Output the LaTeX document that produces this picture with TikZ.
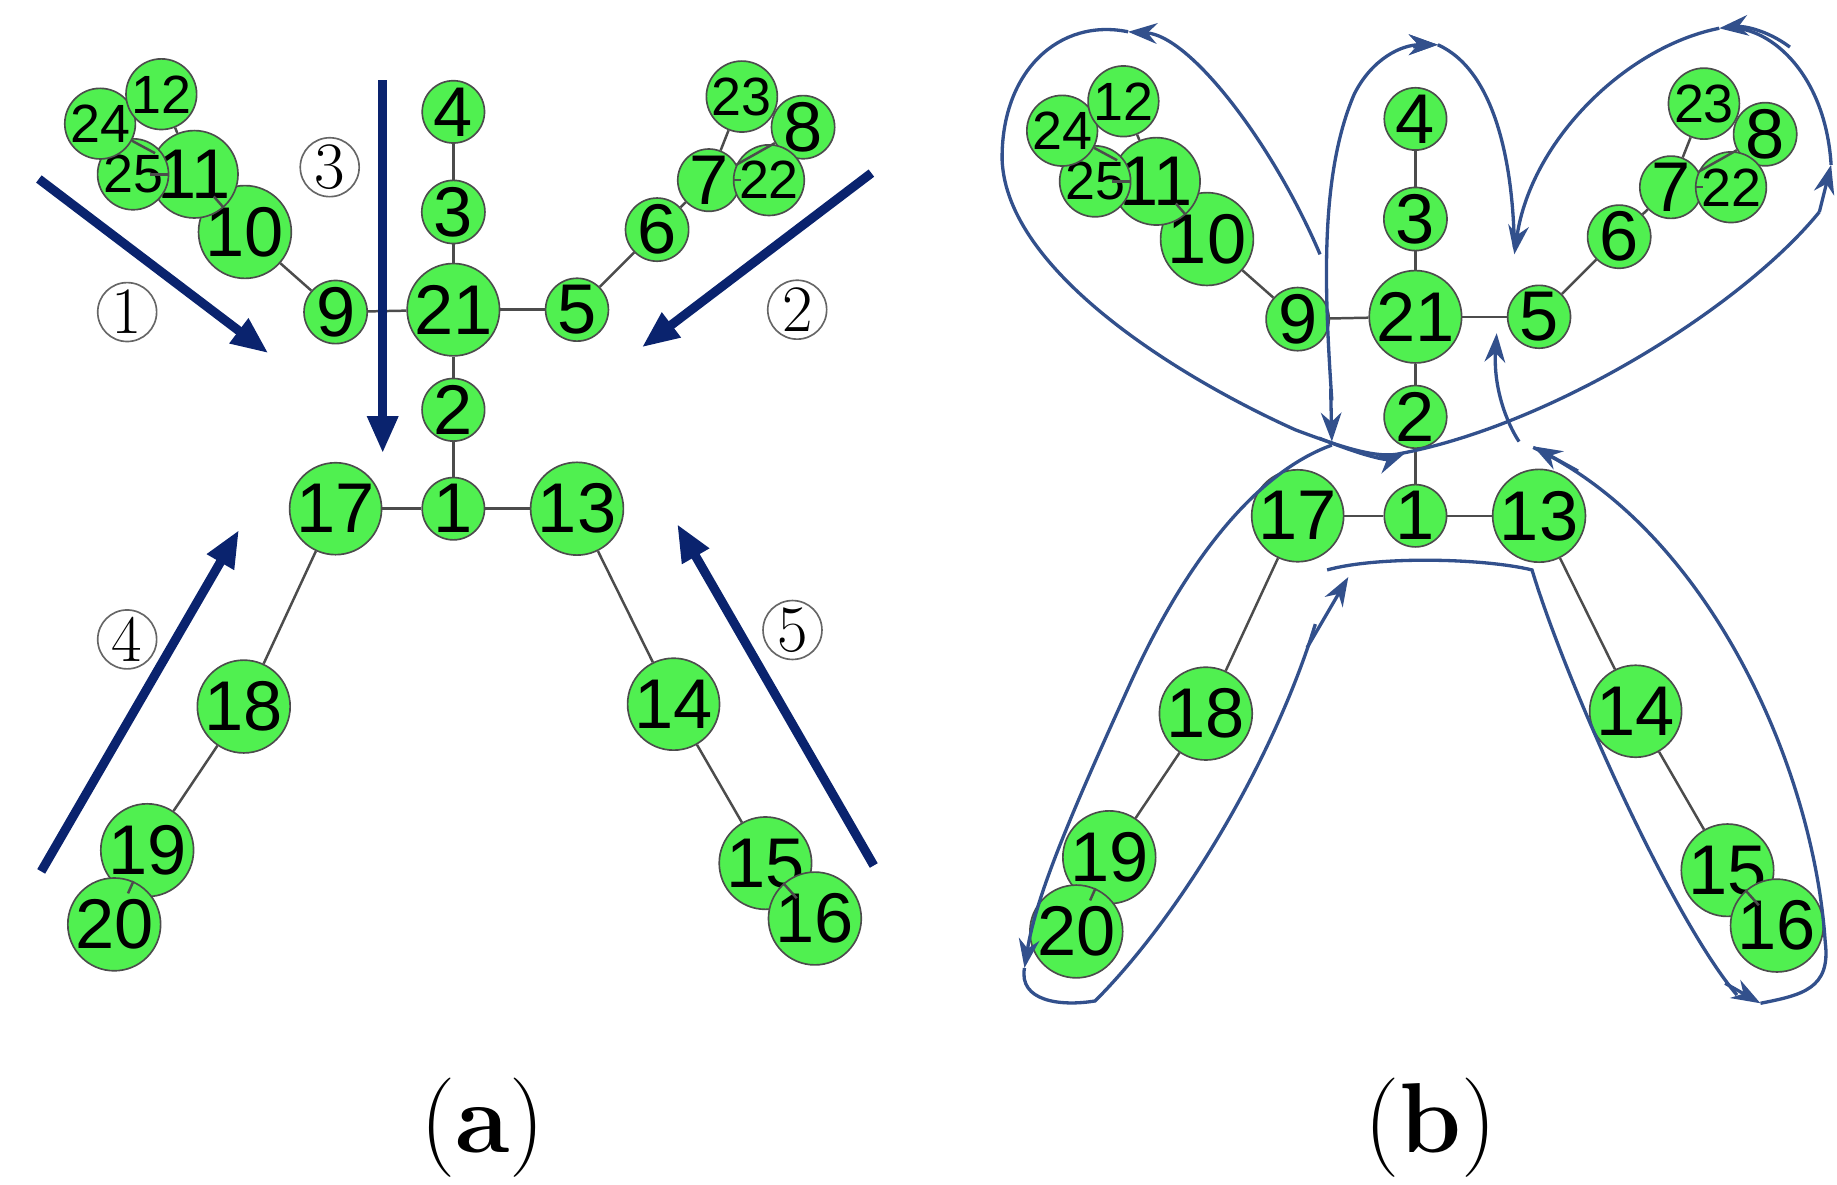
\documentclass[tikz,border=0pt]{standalone}
\usepackage{fontspec}
\newfontfamily\sansf{Liberation Sans}
\usetikzlibrary{arrows.meta}
\definecolor{ng}{RGB}{80,240,80}
\definecolor{navy}{RGB}{10,35,110}
\definecolor{lp}{RGB}{50,80,140}
\begin{document}
\begin{tikzpicture}[x=0.01cm,y=-0.01cm,
 J/.style={circle,draw=black!70,fill=ng,minimum size=0.48cm,inner sep=0,font=\sansf\fontsize{17}{17}\selectfont},
 S/.style={J,minimum size=0.40cm,font=\sansf\fontsize{13}{13}\selectfont},
 E/.style={draw=black!70,line width=0.6pt},
 C/.style={circle,draw=black!60,minimum size=0.5cm,inner sep=0,font=\fontsize{16}{16}\selectfont},
 BA/.style={navy,line width=2.2pt,-{Triangle[length=9pt,width=7pt]}},
 L/.style={lp,line width=0.8pt,-{Stealth[length=7pt,width=5pt]}},
 captxt/.style={font=\fontsize{24}{24}\selectfont}]
\useasboundingbox (0,0) rectangle (1560,1006);
\foreach \p/\dx/\dy in {a/0/0,b/817/6}{
\begin{scope}[shift={(\dx,\dy)}]
\foreach \n/\x/\y in {4/385/95,3/385/180,21/385/263,2/385/348,1/385/432,9/285/265,5/490/263,17/285/432,13/490/432,10/208/197,11/165/148,6/558/195,7/602/153,8/682/108,18/207/600,19/125/722,20/97/785,14/572/598,15/650/733,16/692/780}
  \node[J] (\p\n) at (\x,\y) {\n};
\foreach \n/\x/\y in {25/113/148,24/85/105,12/137/80,22/653/153,23/630/82}
  \node[S] (\p\n) at (\x,\y) {\n};
\foreach \u/\v in {4/3,3/21,21/2,2/1,21/9,21/5,9/10,10/11,11/25,11/24,11/12,5/6,6/7,7/22,7/8,7/23,1/17,1/13,17/18,18/19,19/20,13/14,14/15,15/16}
  \draw[E] (\p\u) -- (\p\v);
\end{scope}}
\foreach \n/\x/\y in {1/108/265,2/677/263,3/280/142,4/108/543,5/673/535}
  \node[C] (c\n) at (\x,\y) {\n};
\coordinate (a1s) at (33,152); \coordinate (a1e) at (228,300);
\coordinate (a2s) at (740,147); \coordinate (a2e) at (545,295);
\coordinate (a3s) at (325,68); \coordinate (a3e) at (325,385);
\coordinate (a4s) at (35,740); \coordinate (a4e) at (203,450);
\coordinate (a5s) at (742,735); \coordinate (a5e) at (575,445);
\foreach \i in {1,...,5} \draw[BA] (a\i s) -- (a\i e);
\node[captxt] (capa) at (410,958) {(\textbf{a})};
\node[captxt] (capb) at (1215,958) {(\textbf{b})};
% loops
\draw[L] (1121,216) .. controls (1080,120) and (1010,30) .. (958,27);
\draw[lp,line width=0.8pt] (958,27) .. controls (900,15) and (850,60) .. (851,136)
  .. controls (855,230) and (1000,320) .. (1100,365) .. controls (1140,380) and (1170,390) .. (1190,385);
\draw[L] (1120,372) .. controls (1170,392) and (1180,390) .. (1193,385);
\draw[lp,line width=0.8pt] (1190,385) .. controls (1320,360) and (1480,260) .. (1545,180);
\draw[L] (1545,180) -- (1555,140);
\draw[lp,line width=0.8pt] (1555,140) .. controls (1550,60) and (1500,20) .. (1465,24);
\draw[L] (1520,40) .. controls (1500,25) and (1480,22) .. (1460,24);
\draw[L] (1460,24) .. controls (1380,40) and (1300,120) .. (1286,216);
\draw[L] (1200,40) .. controls (1205,38) and (1210,38) .. (1221,38);
\draw[lp,line width=0.8pt] (1221,38) .. controls (1270,60) and (1285,140) .. (1286,210);
\draw[L] (1131,340) .. controls (1125,250) and (1120,150) .. (1150,80) .. controls (1165,50) and (1190,38) .. (1221,38);
\draw[L] (1130,330) -- (1131,375);
\draw[L] (1131,378) .. controls (1070,400) and (1010,470) .. (960,580) .. controls (910,690) and (880,760) .. (870,822);
\draw[lp,line width=0.8pt] (870,822) .. controls (865,850) and (900,855) .. (930,850)
  .. controls (1000,780) and (1080,650) .. (1117,530);
\draw[L] (1110,550) -- (1145,490);
\draw[lp,line width=0.8pt] (1127,484) .. controls (1170,472) and (1260,474) .. (1301,484)
  .. controls (1330,580) and (1420,780) .. (1475,845);
\draw[L] (1465,835) -- (1495,852);
\draw[lp,line width=0.8pt] (1495,852) .. controls (1530,845) and (1555,840) .. (1550,800)
  .. controls (1540,650) and (1450,450) .. (1302,380);
\draw[L] (1340,400) -- (1302,379);
\draw[L] (1290,375) .. controls (1280,360) and (1268,330) .. (1271,283);
\end{tikzpicture}
\end{document}
